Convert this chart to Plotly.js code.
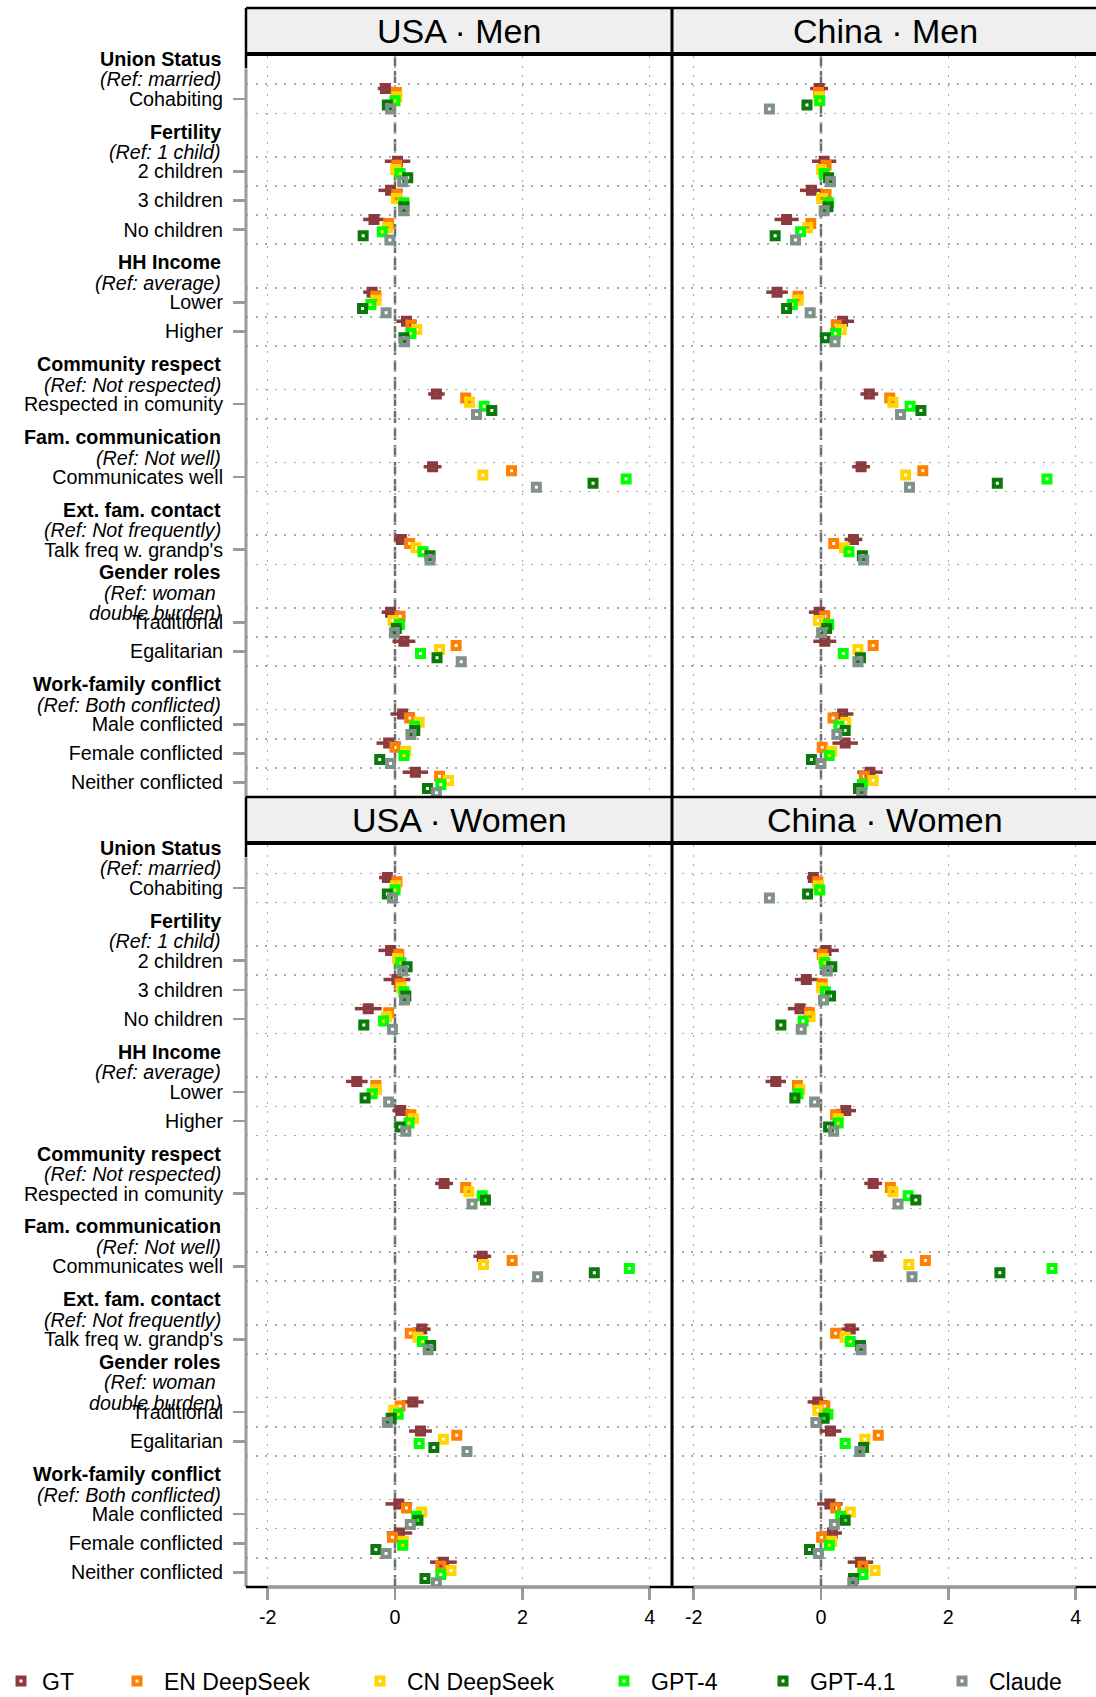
<!DOCTYPE html>
<html><head><meta charset="utf-8">
<script src="https://cdn.plot.ly/plotly-3.0.1.min.js"></script>
<style>html,body{margin:0;padding:0;background:#fff}#chart{width:1096px;height:1697px}</style>
</head><body><div id="chart"></div>
<script>
// ---------------- DATA ----------------
const panelTitles = ['USA · Men', 'China · Men', 'USA · Women', 'China · Women'];
const seriesNames = ['GT', 'EN DeepSeek', 'CN DeepSeek', 'GPT-4', 'GPT-4.1', 'Claude'];
const groupTitles = ['Union Status', 'Fertility', 'HH Income', 'Community respect',
  'Fam. communication', 'Ext. fam. contact', 'Gender roles', 'Work-family conflict'];
const groupRefs = [['(Ref: married)'], ['(Ref: 1 child)'], ['(Ref: average)'], ['(Ref: Not respected)'],
  ['(Ref: Not well)'], ['(Ref: Not frequently)'], ['(Ref: woman ', 'double burden)'], ['(Ref: Both conflicted)']];
const groupItems = [['Cohabiting'], ['2 children', '3 children', 'No children'], ['Lower', 'Higher'],
  ['Respected in comunity'], ['Communicates well'], ["Talk freq w. grandp's"], ['Traditional', 'Egalitarian'],
  ['Male conflicted', 'Female conflicted', 'Neither conflicted']];
const xTickVals = [-2, 0, 2, 4];
const xTickText = ['-2', '0', '2', '4'];

// USA · Men
const usaMenGT     = [-0.15, 0.04, -0.07, -0.33, -0.36, 0.18, 0.65, 0.59, 0.10, -0.07, 0.14, 0.12, -0.10, 0.32];
const usaMenGTci   = [0.12, 0.20, 0.19, 0.17, 0.14, 0.16, 0.13, 0.14, 0.11, 0.14, 0.18, 0.19, 0.19, 0.20];
const usaMenEN     = [0.02, 0.03, 0.03, -0.10, -0.30, 0.25, 1.11, 1.83, 0.23, 0.08, 0.96, 0.23, 0.00, 0.70];
const usaMenCN     = [0.03, 0.01, 0.02, -0.12, -0.30, 0.34, 1.17, 1.38, 0.33, -0.03, 0.70, 0.38, 0.17, 0.84];
const usaMenGPT4   = [0.00, 0.08, 0.14, -0.20, -0.38, 0.25, 1.40, 3.63, 0.44, 0.07, 0.40, 0.31, 0.14, 0.72];
const usaMenGPT41  = [-0.12, 0.20, 0.14, -0.50, -0.51, 0.14, 1.52, 3.11, 0.55, 0.02, 0.66, 0.31, -0.24, 0.51];
const usaMenClaude = [-0.07, 0.12, 0.14, -0.08, -0.14, 0.15, 1.28, 2.22, 0.55, -0.01, 1.04, 0.25, -0.07, 0.65];

// China · Men
const chnMenGT     = [-0.03, 0.05, -0.15, -0.54, -0.69, 0.34, 0.76, 0.63, 0.51, -0.03, 0.06, 0.34, 0.38, 0.77];
const chnMenGTci   = [0.14, 0.19, 0.18, 0.19, 0.17, 0.18, 0.14, 0.14, 0.14, 0.16, 0.18, 0.17, 0.20, 0.20];
const chnMenEN     = [-0.04, 0.08, 0.08, -0.16, -0.36, 0.24, 1.08, 1.60, 0.20, 0.06, 0.82, 0.19, 0.02, 0.68];
const chnMenCN     = [-0.03, 0.01, 0.01, -0.21, -0.36, 0.32, 1.13, 1.33, 0.37, -0.04, 0.58, 0.39, 0.17, 0.82];
const chnMenGPT4   = [-0.02, 0.05, 0.12, -0.32, -0.45, 0.23, 1.40, 3.55, 0.44, 0.12, 0.35, 0.28, 0.13, 0.65];
const chnMenGPT41  = [-0.22, 0.12, 0.11, -0.72, -0.54, 0.07, 1.57, 2.77, 0.65, 0.09, 0.62, 0.38, -0.15, 0.59];
const chnMenClaude = [-0.81, 0.15, 0.05, -0.40, -0.17, 0.22, 1.25, 1.39, 0.67, 0.01, 0.58, 0.25, 0.00, 0.64];

// USA · Women
const usaWomGT     = [-0.12, -0.07, 0.03, -0.42, -0.60, 0.09, 0.77, 1.37, 0.42, 0.28, 0.40, 0.06, 0.07, 0.76];
const usaWomGTci   = [0.13, 0.19, 0.21, 0.21, 0.17, 0.13, 0.14, 0.14, 0.14, 0.17, 0.18, 0.21, 0.20, 0.21];
const usaWomEN     = [0.03, 0.06, 0.08, -0.10, -0.30, 0.25, 1.11, 1.84, 0.24, 0.08, 0.97, 0.18, -0.04, 0.72];
const usaWomCN     = [0.01, 0.04, 0.10, -0.13, -0.29, 0.29, 1.16, 1.39, 0.36, -0.02, 0.76, 0.42, 0.13, 0.88];
const usaWomGPT4   = [0.00, 0.09, 0.14, -0.18, -0.36, 0.22, 1.37, 3.68, 0.43, 0.05, 0.38, 0.34, 0.12, 0.72];
const usaWomGPT41  = [-0.12, 0.19, 0.17, -0.49, -0.47, 0.08, 1.42, 3.13, 0.56, -0.06, 0.61, 0.36, -0.30, 0.47];
const usaWomClaude = [-0.04, 0.12, 0.15, -0.04, -0.10, 0.17, 1.21, 2.24, 0.52, -0.12, 1.13, 0.24, -0.14, 0.65];

// China · Women
const chnWomGT     = [-0.12, 0.08, -0.23, -0.33, -0.71, 0.39, 0.82, 0.90, 0.46, -0.05, 0.15, 0.14, 0.18, 0.62];
const chnWomGTci   = [0.10, 0.20, 0.18, 0.19, 0.16, 0.16, 0.14, 0.13, 0.14, 0.16, 0.17, 0.20, 0.15, 0.20];
const chnWomEN     = [-0.05, 0.02, 0.02, -0.18, -0.37, 0.23, 1.09, 1.64, 0.23, 0.06, 0.90, 0.23, 0.01, 0.66];
const chnWomCN     = [-0.04, 0.04, 0.01, -0.17, -0.33, 0.27, 1.13, 1.38, 0.38, -0.05, 0.69, 0.46, 0.17, 0.85];
const chnWomGPT4   = [-0.02, 0.06, 0.07, -0.28, -0.36, 0.27, 1.37, 3.63, 0.46, 0.11, 0.38, 0.31, 0.13, 0.66];
const chnWomGPT41  = [-0.21, 0.17, 0.15, -0.63, -0.41, 0.12, 1.49, 2.81, 0.62, 0.05, 0.67, 0.38, -0.18, 0.51];
const chnWomClaude = [-0.81, 0.10, 0.04, -0.31, -0.10, 0.20, 1.21, 1.43, 0.63, -0.08, 0.61, 0.21, -0.04, 0.50];

// ---------------- STYLE / LAYOUT ----------------
const FONT = 'Liberation Sans, Arial, Helvetica, sans-serif';
const seriesColors = ['#8B3A3E', '#FF8000', '#FFD400', '#00FF00', '#0A780A', '#7F9189'];
const W = 1096, H = 1697, ML = 246;
const PW = W - ML;
const xp = px => (px - ML) / PW;
const yp = py => 1 - py / H;

const panelSeries = [
  [usaMenGT, usaMenEN, usaMenCN, usaMenGPT4, usaMenGPT41, usaMenClaude],
  [chnMenGT, chnMenEN, chnMenCN, chnMenGPT4, chnMenGPT41, chnMenClaude],
  [usaWomGT, usaWomEN, usaWomCN, usaWomGPT4, usaWomGPT41, usaWomClaude],
  [chnWomGT, chnWomEN, chnWomCN, chnWomGPT4, chnWomGPT41, chnWomClaude]
];
const panelCI = [usaMenGTci, chnMenGTci, usaWomGTci, chnWomGTci];

// row positions built from group structure
const itemPos = [], itemLabels = [], headerLines = [];
let pos = 0;
groupItems.forEach((items, g) => {
  if (g > 0) pos += 2.5;
  const lines = ['<b>' + groupTitles[g] + '</b>'].concat(groupRefs[g].map(r => '<i>' + r.trim() + '</i>'));
  const shifts = [0].concat(groupRefs[g].map(r => r.endsWith(' ') ? -5 : 0));
  const center = pos - 1.02;
  lines.forEach((t, j) => headerLines.push({ text: t, y: center + (j - (lines.length - 1) / 2) * 0.71, shift: shifts[j] }));
  items.forEach((it, i) => { if (i > 0) pos += 1; itemPos.push(pos); itemLabels.push(it); });
});
const bounds = [...new Set(itemPos.flatMap(p => [p - 0.5, p + 0.5]))];
const yRange = [24.0, -1.47];
const offsets = seriesNames.map((_, i) => (i - 2.5) * 0.141);

const midPx = 672;
const xDomains = [[0, xp(midPx)], [xp(midPx), 1]];
const yDomains = [[yp(797), yp(56)], [yp(1587), yp(845)]];
const xRanges = [[-2.34, 4.35], [-2.34, 4.32]];

const traces = [];
panelSeries.forEach((ser, p) => {
  const ax = p === 0 ? '' : String(p + 1);
  ser.forEach((vals, s) => {
    const tr = {
      type: 'scatter', mode: 'markers',
      x: vals, y: itemPos.map(v => v + offsets[s]),
      xaxis: 'x' + ax, yaxis: 'y' + ax,
      name: seriesNames[s],
      legend: s === 0 ? 'legend' : 'legend' + (s + 1),
      showlegend: p === 0,
      marker: { symbol: 'square-open', size: 7, color: seriesColors[s], line: { width: 4, color: seriesColors[s] } },
      hoverinfo: 'skip'
    };
    if (s === 0) {
      tr.error_x = { type: 'data', array: panelCI[p], symmetric: true, color: seriesColors[0], thickness: 3.5, width: 0 };
    }
    traces.push(tr);
  });
});

const gridDash = '2px,7.5px';
const layout = {
  width: W, height: H,
  margin: { l: ML, r: 0, t: 0, b: 0, pad: 0, autoexpand: false },
  paper_bgcolor: '#fff', plot_bgcolor: '#fff',
  font: { family: FONT, size: 19.7, color: '#000' },
  showlegend: true,
  shapes: [], annotations: []
};

for (let p = 0; p < 4; p++) {
  const ax = p === 0 ? '' : String(p + 1);
  const col = p % 2, row = Math.floor(p / 2);
  layout['xaxis' + ax] = {
    domain: xDomains[col], range: xRanges[col], anchor: 'y' + ax,
    tickmode: 'array', tickvals: xTickVals, ticktext: xTickText,
    showticklabels: row === 1, ticks: row === 1 ? 'outside' : '', ticklen: 12, tickwidth: 2.5, tickcolor: '#9a9a9a',
    tickfont: { size: 19.7, color: '#000' },
    showgrid: true, gridcolor: '#aaaaaa', gridwidth: 1.5, griddash: gridDash,
    zeroline: false, showline: false, fixedrange: true, automargin: false
  };
  layout['yaxis' + ax] = {
    domain: yDomains[row], range: yRange, anchor: 'x' + ax,
    tickmode: 'array', tickvals: itemPos, ticktext: itemLabels,
    showticklabels: col === 0, ticks: col === 0 ? 'outside' : '', ticklen: 12, tickwidth: 2.5, tickcolor: '#9a9a9a',
    ticklabelstandoff: 6,
    tickfont: { size: 19.7, color: '#000' },
    showgrid: false, zeroline: false, showline: false, fixedrange: true, automargin: false,
    minor: { tickmode: 'array', tickvals: bounds, showgrid: true, gridcolor: '#aaaaaa', gridwidth: 1.5, griddash: gridDash, ticks: '' }
  };
  // dashed zero line
  layout.shapes.push({ type: 'line', xref: 'x' + ax, yref: 'y' + ax + ' domain', x0: 0, x1: 0, y0: 0, y1: 1,
    line: { color: '#6e6e6e', width: 2.5, dash: '12px,5px' }, layer: 'below' });
  // gray axis line on left panels
  if (col === 0) {
    layout.shapes.push({ type: 'line', xref: 'paper', yref: 'y' + ax, x0: 0, x1: 0, y0: -1.05, y1: yRange[0],
      line: { color: '#9a9a9a', width: 3 }, layer: 'above' });
  }
  // strip title
  layout.annotations.push({ text: panelTitles[p], xref: 'paper', yref: 'paper',
    x: col === 0 ? xp((ML + midPx) / 2) : xp((midPx + 1098) / 2), y: row === 0 ? yp(31) : yp(820),
    xanchor: 'center', yanchor: 'middle', showarrow: false, font: { size: 34, color: '#000' } });
}

// group header annotations on left panels
['', '3'].forEach(ax => {
  headerLines.forEach(h => {
    layout.annotations.push({ text: h.text, xref: 'paper', yref: 'y' + ax, x: xp(223), y: h.y,
      xanchor: 'right', yanchor: 'middle', xshift: h.shift, showarrow: false, font: { size: 19.7, color: '#000' } });
  });
});

// strips and frames (paper coords)
[[8, 54], [797, 843]].forEach(([t, b]) => {
  layout.shapes.push({ type: 'rect', xref: 'paper', yref: 'paper', x0: 0, x1: 1.01, y0: yp(b), y1: yp(t),
    fillcolor: '#efefef', line: { width: 0 }, layer: 'above' });
  layout.shapes.push({ type: 'line', xref: 'paper', yref: 'paper', x0: 0, x1: 1.01, y0: yp(t), y1: yp(t),
    line: { color: '#000', width: 2.5 }, layer: 'above' });
  layout.shapes.push({ type: 'line', xref: 'paper', yref: 'paper', x0: 0, x1: 1.01, y0: yp(b), y1: yp(b),
    line: { color: '#000', width: 4 }, layer: 'above' });
});
layout.shapes.push({ type: 'line', xref: 'paper', yref: 'paper', x0: 0, x1: 1.01, y0: yp(1587), y1: yp(1587),
  line: { color: '#000', width: 2.5 }, layer: 'above' });
// left border of strips / top header area
[[8, 68], [797, 857]].forEach(([t, b]) => {
  layout.shapes.push({ type: 'line', xref: 'paper', yref: 'paper', x0: 0, x1: 0, y0: yp(b), y1: yp(t),
    line: { color: '#000', width: 2.5 }, layer: 'above' });
});
layout.shapes.push({ type: 'line', xref: 'paper', yref: 'paper', x0: xp(midPx), x1: xp(midPx), y0: yp(1587), y1: yp(8),
  line: { color: '#000', width: 3 }, layer: 'above' });
// gray x-axis segments on bottom panels
['3', '4'].forEach(ax => {
  layout.shapes.push({ type: 'line', xref: 'x' + ax, yref: 'paper', x0: -2, x1: 4, y0: yp(1587), y1: yp(1587),
    line: { color: '#9a9a9a', width: 3 }, layer: 'above' });
});

// one legend box per series, placed along the bottom
const legendSymbolX = [16, 137, 380, 624, 783, 962];
const legendItemW = [32, 44, 44, 44, 44, 44];
seriesNames.forEach((n, s) => {
  const key = s === 0 ? 'legend' : 'legend' + (s + 1);
  const symOff = 5 + legendItemW[s] / 2;
  layout[key] = {
    xref: 'container', yref: 'container', x: Math.max(0, (legendSymbolX[s] - symOff) / W), y: 16 / H,
    xanchor: 'left', yanchor: 'middle', orientation: 'h', itemwidth: legendItemW[s],
    font: { size: 23, color: '#000', family: FONT }, bgcolor: 'rgba(0,0,0,0)', borderwidth: 0
  };
});

Plotly.newPlot('chart', traces, layout, { displayModeBar: false, staticPlot: true });
</script>
</body></html>
